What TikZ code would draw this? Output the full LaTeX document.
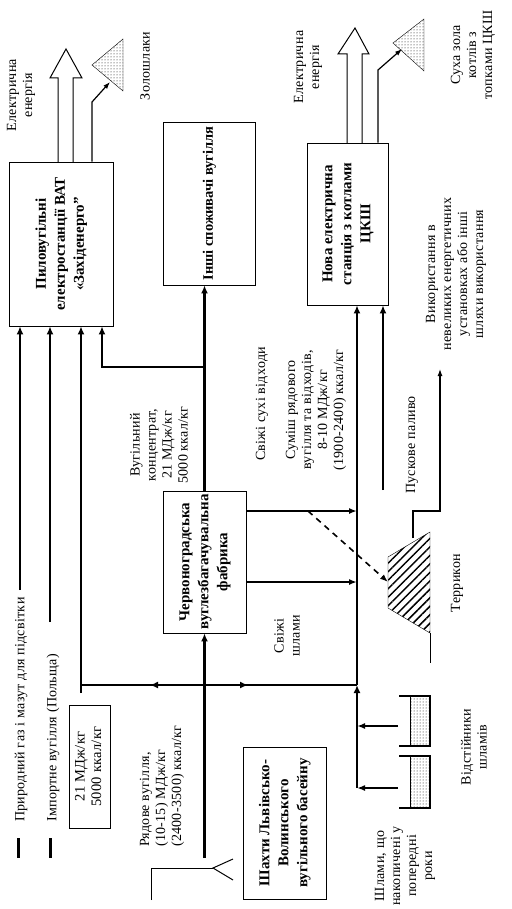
\documentclass[tikz,border=0pt]{standalone}
\usepackage{graphicx}
\usepackage{fontspec}
\setmainfont{Liberation Serif}
\newfontfamily\lblfont{Liberation Serif}[LetterSpace=2]
\usetikzlibrary{arrows.meta,patterns,patterns.meta}
\newcommand{\rottext}[1]{\rotatebox{90}{\begin{tabular}{@{}c@{}}#1\end{tabular}}}
\begin{document}
\begin{tikzpicture}[x=1pt,y=-1pt,
  lbl/.style={rotate=90,align=center,inner sep=0pt,font=\lblfont\fontsize{14}{16}\selectfont},
  box/.style={draw,line width=0.8pt,inner sep=0pt,font=\bfseries\fontsize{15}{19}\selectfont},
  flow/.style={line width=2.4pt,-{Latex[length=8pt,width=7pt]}},
  mflow/.style={line width=1.6pt,-{Latex[length=8pt,width=6pt]}},
  tflow/.style={line width=1.2pt,-{Latex[length=7pt,width=5pt]}},
  dots box/.style={draw,thin,pattern=dots}]
\useasboundingbox (0,0) rectangle (511,909);

\node (TPP) at (61,244) [box,minimum width=104pt,minimum height=164pt]{\rottext{Пиловугільні\\електростанції ВАТ\\«Західенерго”}};
\node (INSHI) at (209,203.5) [box,font=\bfseries\fontsize{14.5}{19}\selectfont,minimum width=92pt,minimum height=163pt]{\rottext{Інші споживачі вугілля}};
\node (CHF) at (204.5,562) [box,minimum width=83pt,minimum height=142pt]{\rottext{Червоноградська\\вуглезбагачувальна\\фабрика}};
\node (NOVA) at (347.5,224) [box,minimum width=81pt,minimum height=162pt]{\rottext{Нова електрична\\станція з котлами\\ЦКШ}};
\node (MINES) at (284.5,823) [box,minimum width=83pt,minimum height=152pt]{\rottext{Шахти Львівсько-\\Волинського\\вугільного басейну}};
\node (CAL) at (89.5,766.5) [box,font=\lblfont\fontsize{14.5}{16.5}\selectfont,minimum width=41pt,minimum height=123pt]{\rottext{21 МДж/кг\\5000 ккал/кг}};

\node (EL1) at (21,95) [lbl]{Електрична\\енергія};
\node (ASH) at (145,66) [lbl]{Золошлаки};
\node (EL2) at (308,67) [lbl]{Електрична\\енергія};
\node (DRY) at (473,55) [lbl]{Суха зола\\котлів з\\топками ЦКШ};
\node (USE) at (456,274) [lbl]{Використання в\\невеликих енергетичних\\установках або інші\\шляхи використання};
\node (CONC) at (159,445) [lbl]{Вугільний\\концентрат,\\21 МДж/кг\\5000 ккал/кг};
\node (DRYW) at (262,404) [lbl]{Свіжі сухі відходи};
\node (MIX) at (316,410) [lbl]{Суміш рядового\\вугілля та відходів,\\8-10 МДж/кг\\(1900-2400) ккал/кг};
\node (START) at (412,445) [lbl]{Пускове паливо};
\node (TERR) at (457,583) [lbl]{Террикон};
\node (SLUD) at (287,636) [lbl]{Свіжі\\шлами};
\node (PONDS) at (474,747) [lbl]{Відстійники\\шламів};
\node (OLD) at (405,866) [lbl]{Шлами, що\\накопичені у\\попередні\\роки};
\node (RAW) at (162,847) [lbl,align=left,anchor=west]{Рядове вугілля,\\(10-15) МДж/кг\\(2400-3500) ккал/кг};
\node (GAS) at (21,822) [lbl,anchor=west]{Природний газ і мазут для підсвітки};
\node (IMP) at (53,822) [lbl,anchor=west]{Імпортне вугілля (Польща)};

\coordinate (gasEnd) at (20,590);
\coordinate (impEnd) at (50,622);
\coordinate (coalEnd) at (81,693);
\coordinate (cfork) at (204.5,367);
\coordinate (cturn) at (102,367);
\coordinate (shaft) at (204.5,858);
\coordinate (rfork) at (204.5,685);
\coordinate (rleft) at (81,685);
\coordinate (rright) at (357,685);
\coordinate (larr) at (150,685);
\coordinate (rarr) at (248,685);
\coordinate (sbot) at (357,788);
\coordinate (dryA) at (246,511);
\coordinate (wetA) at (246,582);
\coordinate (dsh) at (308,511);
\coordinate (tleft) at (388,582);
\coordinate (startf) at (383,490);
\coordinate (tout) at (413,538);
\coordinate (useEnd) at (440,369);
\coordinate (p1) at (398,726);
\coordinate (p2) at (398,788);
\coordinate (ashA) at (92,102);
\coordinate (ashB) at (378,70);

\draw[flow] (gasEnd) -- (gasEnd |- TPP.south);
\draw[flow] (impEnd) -- (impEnd |- TPP.south);
\draw[flow] (coalEnd) -- (coalEnd |- TPP.south);
\draw[flow] (CHF.north) -- (CHF.north |- INSHI.south);
\draw[flow] (cfork) -- (cturn) -- (cturn |- TPP.south);
\draw[flow] (shaft) -- (CHF.south);
\draw[line width=2.4pt] (rleft) -- (rright);
\draw[flow] (rfork) -- (larr);
\draw[flow] (rfork) -- (rarr);
\draw[flow] (sbot) -- (rright);
\draw[flow] (rright) -- (rright |- NOVA.south);
\draw[flow] (startf) -- (startf |- NOVA.south);
\draw[mflow] (dryA) -- (dryA -| rright);
\draw[mflow] (wetA) -- (wetA -| rright);
\draw[mflow] (p1) -- (p1 -| rright);
\draw[mflow] (p2) -- (p2 -| rright);
\draw[mflow,dash pattern=on 6pt off 5pt] (dsh) -- (tleft);
\draw[tflow] (tout) -- (413,511) -- (440,511) -- (useEnd);
\draw[tflow] (ashA |- TPP.north) -- (ashA) -- (110,82);
\draw[tflow] (ashB |- NOVA.north) -- (ashB) -- (402,49);

\draw[line width=1pt,fill=white] (58,162) -- (58,78) -- (50,78) -- (66,49) -- (82,78) -- (73,78) -- (73,162);
\draw[line width=1pt,fill=white] (347,143) -- (347,54) -- (338,54) -- (355,28) -- (369,54) -- (362,54) -- (362,143);
\draw[dots box] (92,65) -- (123,39) -- (123,91) -- cycle;
\draw[dots box] (393,43) -- (424,19) -- (424,71) -- cycle;

\draw[thin,pattern={Lines[angle=45,distance=6pt,line width=1.5pt]}] (388,557) -- (430,532) -- (430,633) -- (388,608) -- cycle;
\draw[line width=1pt] (430,633) -- (430,663);

\draw[dots box] (410,696) rectangle (430,746);
\draw[line width=1.5pt] (399,696) -- (430,696) -- (430,746) -- (399,746);
\draw[dots box] (410,756) rectangle (430,808);
\draw[line width=1.5pt] (399,756) -- (430,756) -- (430,808) -- (399,808);

\draw[line width=1pt] (151,900) -- (151,868) -- (213,868);
\draw[line width=1pt] (233,859) -- (213,868) -- (233,880);

\draw[line width=3pt] (18,838) -- (18,858);
\draw[line width=3pt] (50,838) -- (50,858);
\end{tikzpicture}
\end{document}
